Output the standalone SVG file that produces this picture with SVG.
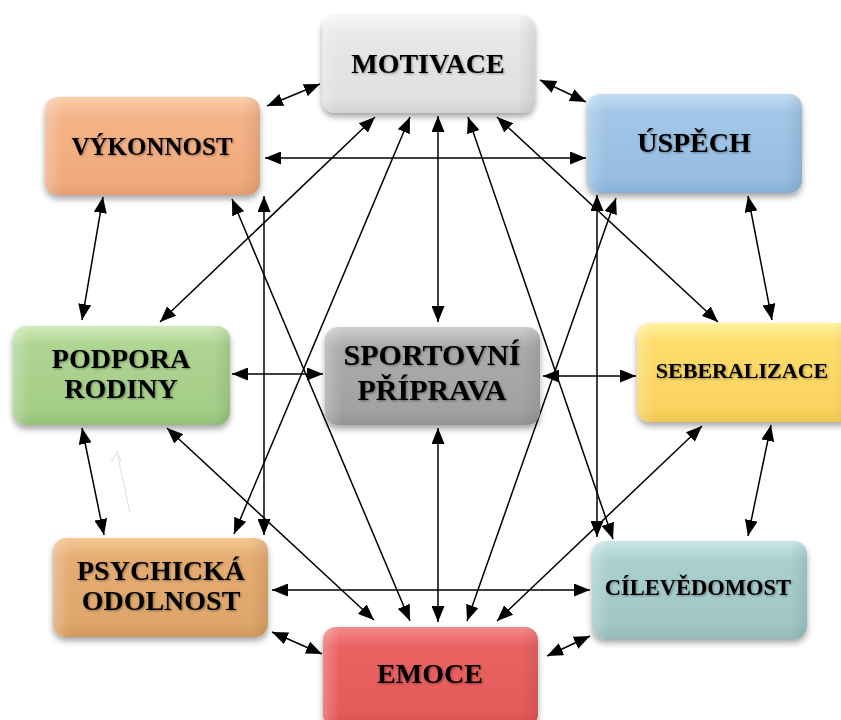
<svg xmlns="http://www.w3.org/2000/svg" width="841" height="720" viewBox="0 0 841 720">
<defs>
<style>
.box{stroke:none}
.lbl{font-family:"Liberation Serif","Times New Roman",serif;font-weight:bold;fill:#000;text-anchor:middle}
.conn line{stroke:#000;stroke-width:1.5;fill:none;marker-start:url(#ah);marker-end:url(#ah)}
.faint{stroke:#e4e4e4;stroke-width:1.2;fill:none}
</style>
<marker id="ah" viewBox="0 0 16 13" refX="16" refY="6.5" markerWidth="16" markerHeight="13" markerUnits="userSpaceOnUse" orient="auto-start-reverse">
<path d="M0,0 L16,6.5 L0,13 z" fill="#000"/>
</marker>
<filter id="sh" x="-10%" y="-10%" width="120%" height="130%">
<feGaussianBlur in="SourceAlpha" stdDeviation="3"/>
<feOffset dx="0" dy="4" result="b"/>
<feComponentTransfer><feFuncA type="linear" slope="0.35"/></feComponentTransfer>
<feMerge><feMergeNode/><feMergeNode in="SourceGraphic"/></feMerge>
</filter>
<filter id="ts" x="-5%" y="-20%" width="110%" height="140%">
<feGaussianBlur in="SourceAlpha" stdDeviation="0.8"/>
<feOffset dx="0.5" dy="1" />
<feComponentTransfer><feFuncA type="linear" slope="0.4"/></feComponentTransfer>
<feMerge><feMergeNode/><feMergeNode in="SourceGraphic"/></feMerge>
</filter>
<linearGradient id="hx" x1="0" y1="0" x2="1" y2="0">
<stop offset="0" stop-color="#fff" stop-opacity="0.25"/>
<stop offset="0.08" stop-color="#fff" stop-opacity="0"/>
<stop offset="0.92" stop-color="#000" stop-opacity="0"/>
<stop offset="1" stop-color="#000" stop-opacity="0.08"/>
</linearGradient>
<linearGradient id="gMot" x1="0" y1="0" x2="0" y2="1"><stop offset="0" stop-color="#f7f7f7"/><stop offset="0.2" stop-color="#e8e8e8"/><stop offset="0.85" stop-color="#e0e0e0"/><stop offset="1" stop-color="#d2d2d2"/></linearGradient>
<linearGradient id="gVyk" x1="0" y1="0" x2="0" y2="1"><stop offset="0" stop-color="#fbcfa8"/><stop offset="0.2" stop-color="#f4b488"/><stop offset="0.85" stop-color="#f0aa7c"/><stop offset="1" stop-color="#e49e70"/></linearGradient>
<linearGradient id="gUsp" x1="0" y1="0" x2="0" y2="1"><stop offset="0" stop-color="#c3ddf3"/><stop offset="0.2" stop-color="#a2c6e7"/><stop offset="0.85" stop-color="#97bde1"/><stop offset="1" stop-color="#88b0d6"/></linearGradient>
<linearGradient id="gPod" x1="0" y1="0" x2="0" y2="1"><stop offset="0" stop-color="#cdeab8"/><stop offset="0.2" stop-color="#aed592"/><stop offset="0.85" stop-color="#a4cd87"/><stop offset="1" stop-color="#96c079"/></linearGradient>
<linearGradient id="gSpo" x1="0" y1="0" x2="0" y2="1"><stop offset="0" stop-color="#cfcfcf"/><stop offset="0.2" stop-color="#ababab"/><stop offset="0.85" stop-color="#a2a2a2"/><stop offset="1" stop-color="#939393"/></linearGradient>
<linearGradient id="gSeb" x1="0" y1="0" x2="0" y2="1"><stop offset="0" stop-color="#fff2a0"/><stop offset="0.2" stop-color="#ffdc6c"/><stop offset="0.85" stop-color="#f9d35f"/><stop offset="1" stop-color="#efc652"/></linearGradient>
<linearGradient id="gPsy" x1="0" y1="0" x2="0" y2="1"><stop offset="0" stop-color="#f4c795"/><stop offset="0.2" stop-color="#e5ad72"/><stop offset="0.85" stop-color="#dea66b"/><stop offset="1" stop-color="#d29a5e"/></linearGradient>
<linearGradient id="gCil" x1="0" y1="0" x2="0" y2="1"><stop offset="0" stop-color="#cbe6e6"/><stop offset="0.2" stop-color="#aacfcf"/><stop offset="0.85" stop-color="#a1c6c6"/><stop offset="1" stop-color="#93b9b9"/></linearGradient>
<linearGradient id="gEmo" x1="0" y1="0" x2="0" y2="1"><stop offset="0" stop-color="#f58a8a"/><stop offset="0.2" stop-color="#ea6262"/><stop offset="0.85" stop-color="#e55a5a"/><stop offset="1" stop-color="#d94f4f"/></linearGradient>
</defs>
<rect width="841" height="720" fill="#fff"/>

<g id="connectors" class="conn">
<line x1="267" y1="106" x2="320" y2="84"/>
<line x1="540" y1="80" x2="586" y2="102"/>
<line x1="265" y1="158" x2="586" y2="158"/>
<line x1="438" y1="116" x2="438" y2="322"/>
<line x1="375" y1="117" x2="160" y2="322"/>
<line x1="410" y1="117" x2="234" y2="534"/>
<line x1="468" y1="117" x2="613" y2="539"/>
<line x1="497" y1="117" x2="718" y2="322"/>
<line x1="103" y1="197" x2="82" y2="320"/>
<line x1="232" y1="199" x2="410" y2="621"/>
<line x1="264" y1="196" x2="264" y2="535"/>
<line x1="597" y1="195" x2="597" y2="537"/>
<line x1="616" y1="198" x2="467" y2="621"/>
<line x1="748" y1="196" x2="772" y2="320"/>
<line x1="232" y1="374" x2="323" y2="374"/>
<line x1="543" y1="376" x2="636" y2="376"/>
<line x1="438" y1="428" x2="438" y2="622"/>
<line x1="82" y1="428" x2="104" y2="535"/>
<line x1="167" y1="428" x2="374" y2="620"/>
<line x1="702" y1="426" x2="497" y2="621"/>
<line x1="771" y1="425" x2="748" y2="536"/>
<line x1="272" y1="590" x2="590" y2="590"/>
<line x1="272" y1="632" x2="322" y2="654"/>
<line x1="547" y1="656" x2="590" y2="636"/>
</g>
<g id="faint-mark">
<path class="faint" d="M130,513 L117,452 M111,462 L117,452 L121,461"/>
</g>

<g id="n-motivace" filter="url(#sh)">
<rect class="box" x="322" y="15" width="213" height="98" rx="13" fill="url(#gMot)"/>
<rect x="322" y="15" width="213" height="98" rx="13" fill="url(#hx)"/>
<text class="lbl" x="428" y="73" font-size="28" filter="url(#ts)">MOTIVACE</text>
</g>
<g id="n-vykonnost" filter="url(#sh)">
<rect class="box" x="45" y="97" width="215" height="98" rx="13" fill="url(#gVyk)"/>
<rect x="45" y="97" width="215" height="98" rx="13" fill="url(#hx)"/>
<text class="lbl" x="152" y="155" font-size="25" filter="url(#ts)">VÝKONNOST</text>
</g>
<g id="n-uspech" filter="url(#sh)">
<rect class="box" x="587" y="94" width="215" height="99" rx="13" fill="url(#gUsp)"/>
<rect x="587" y="94" width="215" height="99" rx="13" fill="url(#hx)"/>
<text class="lbl" x="694" y="152" font-size="28" filter="url(#ts)">ÚSPĚCH</text>
</g>
<g id="n-podpora" filter="url(#sh)">
<rect class="box" x="13" y="326" width="217" height="99" rx="13" fill="url(#gPod)"/>
<rect x="13" y="326" width="217" height="99" rx="13" fill="url(#hx)"/>
<text class="lbl" x="121" y="368" font-size="28" filter="url(#ts)">PODPORA</text>
<text class="lbl" x="121" y="398" font-size="28" filter="url(#ts)">RODINY</text>
</g>
<g id="n-sportovni" filter="url(#sh)">
<rect class="box" x="325" y="327" width="215" height="98" rx="13" fill="url(#gSpo)"/>
<rect x="325" y="327" width="215" height="98" rx="13" fill="url(#hx)"/>
<text class="lbl" x="432" y="365" font-size="30" filter="url(#ts)">SPORTOVNÍ</text>
<text class="lbl" x="432" y="400" font-size="30" filter="url(#ts)">PŘÍPRAVA</text>
</g>
<g id="n-seberalizace" filter="url(#sh)">
<rect class="box" x="637" y="323" width="215" height="99" rx="13" fill="url(#gSeb)"/>
<rect x="637" y="323" width="215" height="99" rx="13" fill="url(#hx)"/>
<text class="lbl" x="742" y="378" font-size="22" filter="url(#ts)">SEBERALIZACE</text>
</g>
<g id="n-psychicka" filter="url(#sh)">
<rect class="box" x="53" y="538" width="215" height="99" rx="13" fill="url(#gPsy)"/>
<rect x="53" y="538" width="215" height="99" rx="13" fill="url(#hx)"/>
<text class="lbl" x="161" y="580" font-size="28" filter="url(#ts)">PSYCHICKÁ</text>
<text class="lbl" x="161" y="610" font-size="28" filter="url(#ts)">ODOLNOST</text>
</g>
<g id="n-cilevedomost" filter="url(#sh)">
<rect class="box" x="592" y="541" width="215" height="98" rx="13" fill="url(#gCil)"/>
<rect x="592" y="541" width="215" height="98" rx="13" fill="url(#hx)"/>
<text class="lbl" x="698" y="595" font-size="22.5" filter="url(#ts)">CÍLEVĚDOMOST</text>
</g>
<g id="n-emoce" filter="url(#sh)">
<rect class="box" x="323" y="627" width="215" height="100" rx="13" fill="url(#gEmo)"/>
<rect x="323" y="627" width="215" height="100" rx="13" fill="url(#hx)"/>
<text class="lbl" x="430" y="683" font-size="28" filter="url(#ts)">EMOCE</text>
</g>
</svg>
